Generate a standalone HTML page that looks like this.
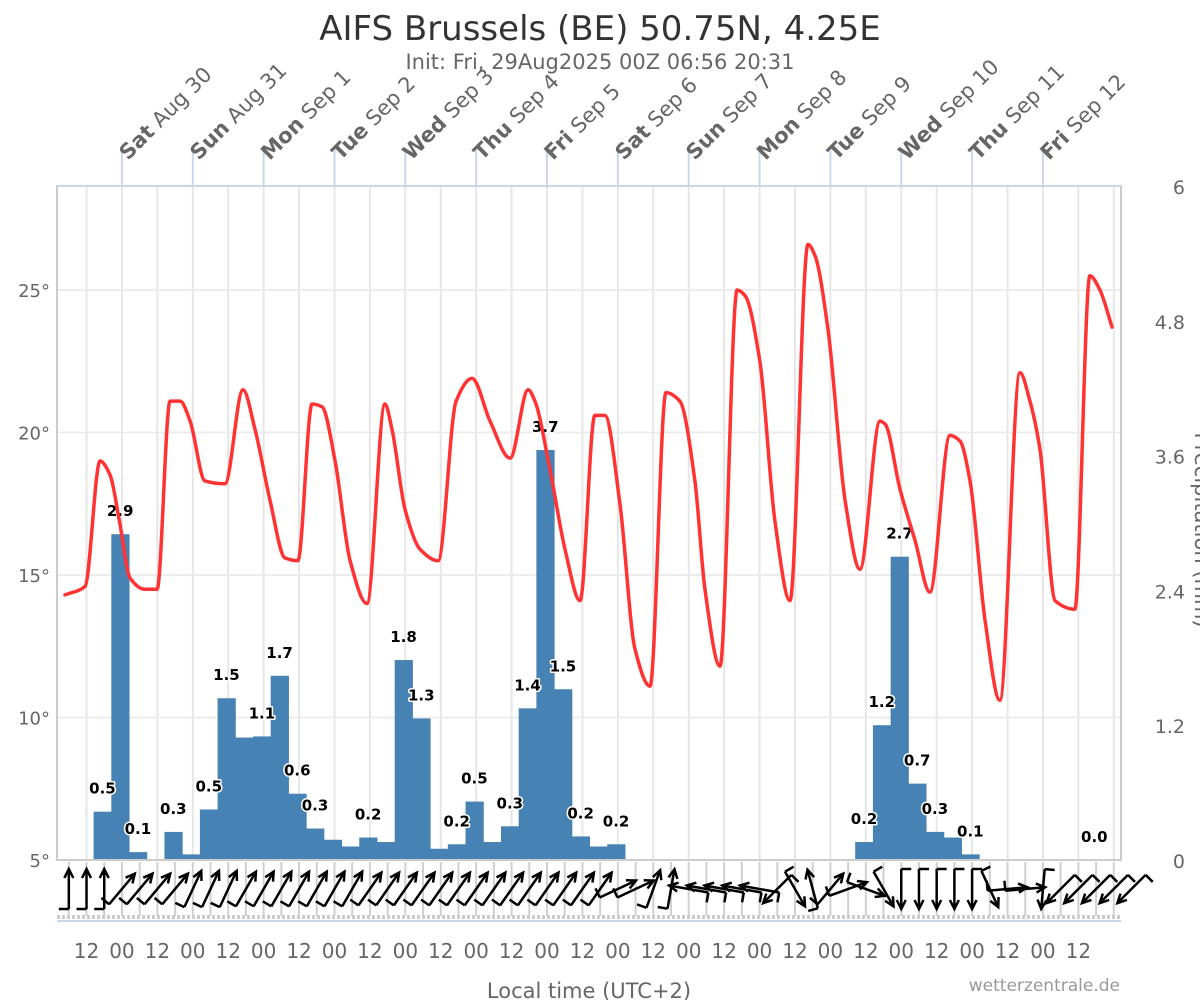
<!DOCTYPE html>
<html><head><meta charset="utf-8">
<style>
html,body{margin:0;padding:0;background:#fff;}
svg{display:block;font-family:"DejaVu Sans","Liberation Sans",sans-serif;}
</style></head>
<body>
<svg id="chart" width="1200" height="1000" viewBox="0 0 1200 1000" xmlns="http://www.w3.org/2000/svg">
<text x="600" y="40" text-anchor="middle" font-size="34" fill="#333">AIFS Brussels (BE) 50.75N, 4.25E</text>
<text x="600" y="69" text-anchor="middle" font-size="21" fill="#666">Init: Fri, 29Aug2025 00Z 06:56 20:31</text>
<g id="grid"></g>
<g id="bars"></g>
<g id="labels"></g>
<g id="line"></g>
<g id="wind"></g>
<g id="axes"></g>
<text x="589" y="998" text-anchor="middle" font-size="21" fill="#666">Local time (UTC+2)</text>
<text x="1120" y="991" text-anchor="end" font-size="17" fill="#999">wetterzentrale.de</text>
<text transform="translate(1195,530) rotate(90)" text-anchor="middle" font-size="21" fill="#666">Precipitation (mm)</text>
</svg>
<script>
// ---- data ----
const dayNames = ["Sat","Sun","Mon","Tue","Wed","Thu","Fri","Sat","Sun","Mon","Tue","Wed","Thu","Fri"];
const dayDates = ["Aug 30","Aug 31","Sep 1","Sep 2","Sep 3","Sep 4","Sep 5","Sep 6","Sep 7","Sep 8","Sep 9","Sep 10","Sep 11","Sep 12"];
const tempTicks = [5,10,15,20,25];
const precipTicks = ["0","1.2","2.4","3.6","4.8","6"];
const precipTickValues = [0,1.2,2.4,3.6,4.8,6];
const hourLabels = ["12","00","12","00","12","00","12","00","12","00","12","00","12","00","12","00","12","00","12","00","12","00","12","00","12","00","12","00","12"];
const tempHours = [2.7,9.5,14.6,18,21.3,24.7,29.8,33.9,38.3,41.7,45.1,50.1,56.9,63,67.1,72.2,77.2,81.6,86.4,89.8,94.2,99.3,105,111.1,113.5,117.9,123,129.1,135.2,140.6,146.7,153.5,159.6,161.9,167,172.1,177.2,182.2,185.6,190.7,195.8,200.9,206.3,211,216.1,219.5,224.6,230.4,233.1,238.1,243.2,248.3,254.4,256.8,261.2,267,272,278.8,280.5,285.6,290.7,295.7,302.5,305.9,309.3,314.4,319.4,326.2,329.6,333,338.1,344.8,349.9,353.3,357.4];
const tempValues = [14.3,14.6,19.0,18.5,16.8,14.9,14.5,14.5,21.1,21.1,20.4,18.3,18.2,21.5,20.1,17.6,15.6,15.5,21.0,20.9,19.0,15.5,14.0,21.0,20.1,17.3,15.9,15.5,21.1,21.9,20.4,19.1,21.5,21.1,18.7,15.9,14.1,20.6,20.6,17.5,12.4,11.1,21.4,21.1,18.3,14.5,11.8,25.0,24.8,22.5,16.9,14.1,26.6,26.2,23.6,17.6,15.2,20.4,20.3,18.0,16.2,14.4,19.9,19.7,18.3,13.4,10.6,22.1,21.1,19.4,14.1,13.8,25.5,25.0,23.7];
const precipValues = [0.43,2.9,0.07,0,0.25,0.05,0.45,1.44,1.09,1.1,1.64,0.59,0.28,0.18,0.12,0.2,0.16,1.78,1.26,0.1,0.14,0.52,0.16,0.3,1.35,3.65,1.52,0.21,0.12,0.14,0,0,0,0,0,0,0,0,0,0,0,0,0,0.16,1.2,2.7,0.68,0.25,0.2,0.05,0,0,0,0,0,0,0];
const precipLabels = ["0.5","2.9","0.1","","0.3","","0.5","1.5","","1.1","1.7","0.6","0.3","","","0.2","","1.8","1.3","","0.2","0.5","","0.3","1.4","3.7","1.5","0.2","","0.2","","","","","","","","","","","","","","0.2","1.2","2.7","0.7","0.3","","0.1","","","","","","","0.0"];
const windDir = [0,0,0,40,40,40,40,25,25,25,30,30,30,30,30,30,30,35,35,35,35,35,35,35,35,35,35,35,35,35,35,65,65,20,10,280,280,280,280,280,225,150,345,40,70,110,150,180,180,180,180,180,155,85,85,185,225,225,225,225,225];

// ---- scales ----
const X0=57, X1=1121, Y0=186, Y1=860;
const PXH=(1042-121)/(13*24);
function xOf(h){return X0+h*PXH;}
function yT(t){return 860-(t-5)*28.5;}
function yP(p){return 860-p*(674/6);}
const NS="http://www.w3.org/2000/svg";
function mk(tag,attrs,parent){const e=document.createElementNS(NS,tag);for(const k in attrs)e.setAttribute(k,attrs[k]);parent.appendChild(e);return e;}
const grid=document.getElementById('grid'),bars=document.getElementById('bars'),labels=document.getElementById('labels'),line=document.getElementById('line'),wind=document.getElementById('wind'),axes=document.getElementById('axes');

for(let h=10;h<364;h+=12){const x=xOf(h);if(x>X1)break;
 const l=mk('line',{x1:x,y1:Y0,x2:x,y2:Y1,stroke:'#e6e6e6','stroke-width':2},grid);
 
 }
for(let h=4;h<364;h+=6){const x=xOf(h);if(x>X1)break;
 const l=mk('line',{x1:x,y1:862,x2:x,y2:916,stroke:'#d0d0d0','stroke-width':2},grid);
 
 }
tempTicks.forEach(t=>{const y=yT(t);
 const l=mk('line',{x1:X0,y1:y,x2:X1,y2:y,stroke:'#ececec','stroke-width':2},grid);
 
 
 const tx=mk('text',{x:50,y:y+7,'text-anchor':'end','font-size':18,fill:'#666'},axes);
 tx.textContent=t+'°';
 
 });
precipTicks.forEach((s,i)=>{const y=yP(precipTickValues[i]);
 const tx=mk('text',{x:1185,y:y+8,'text-anchor':'end','font-size':19,fill:'#666'},axes);
 tx.textContent=s;
 
 });
const fr=mk('rect',{x:X0,y:Y0,width:X1-X0,height:Y1-Y0,fill:'none',stroke:'#cccccc','stroke-width':2},axes);


const tl=mk('line',{x1:X0,y1:Y0,x2:X1,y2:Y0,stroke:'#ccd6eb','stroke-width':2},axes);


dayNames.forEach((d,i)=>{const x=xOf(22+24*i);
 const l=mk('line',{x1:x,y1:148,x2:x,y2:Y0,stroke:'#ccd6eb','stroke-width':2},axes);
 
 
 const t=mk('text',{transform:`translate(${x+6},${161}) rotate(-45)`,'font-size':21,fill:'#666'},axes);
 
 
 const b=mk('tspan',{'font-weight':'bold'},t);b.textContent=d;
 const n=mk('tspan',{},t);n.textContent=' '+dayDates[i];});
const dl=mk('line',{x1:X0,y1:917,x2:X1,y2:917,stroke:'#cccccc','stroke-width':4,'stroke-dasharray':'3 2'},axes);


const bl=mk('line',{x1:X0,y1:921,x2:X1,y2:921,stroke:'#ccd6eb','stroke-width':2},axes);


hourLabels.forEach((s,i)=>{const x=xOf(10+12*i);
 const t=mk('text',{x:x,y:958,'text-anchor':'middle','font-size':20,fill:'#666'},axes);
 t.textContent=s;
 
 });

const B0=12.4;
precipValues.forEach((v,i)=>{const xa=xOf(B0+6*i),xb=xOf(B0+6*(i+1));
 if(v>0){const r=mk('rect',{x:xa,y:yP(v),width:xb-xa+0.5,height:Y1-yP(v),fill:'#4682b4'},bars);
 
 }
 if(precipLabels[i]){const t=mk('text',{x:(xa+xb)/2,y:yP(v)-18,'text-anchor':'middle','font-size':15,'font-weight':'bold',fill:'#000',stroke:'#fff','stroke-width':3,'paint-order':'stroke','stroke-linejoin':'round'},labels);
 t.textContent=precipLabels[i];
 
 }});

(function(){const n=tempHours.length;const xs=tempHours.map(xOf),ys=tempValues.map(yT);
 const d=[],m=new Array(n);for(let i=0;i<n-1;i++)d.push((ys[i+1]-ys[i])/(xs[i+1]-xs[i]));
 m[0]=d[0];m[n-1]=d[n-2];
 for(let i=1;i<n-1;i++){if(d[i-1]*d[i]<=0)m[i]=0;else{const w1=2*(xs[i+1]-xs[i])+(xs[i]-xs[i-1]),w2=(xs[i+1]-xs[i])+2*(xs[i]-xs[i-1]);m[i]=(w1+w2)/(w1/d[i-1]+w2/d[i]);}}
 let p=`M${xs[0]},${ys[0]}`;
 for(let i=0;i<n-1;i++){const h=(xs[i+1]-xs[i])/3;p+=` C${xs[i]+h},${ys[i]+m[i]*h} ${xs[i+1]-h},${ys[i+1]-m[i+1]*h} ${xs[i+1]},${ys[i+1]}`;}
 const pa=mk('path',{d:p,fill:'none',stroke:'#ff3333','stroke-width':3.5,'stroke-linejoin':'round','stroke-linecap':'round'},line);
 
 })();

windDir.forEach((a,k)=>{const cx=xOf(4+6*k),cy=889,L=40;
 const r=a*Math.PI/180,ux=Math.sin(r),uy=-Math.cos(r);
 const tx=cx+ux*L/2,ty=cy+uy*L/2,bx=cx-ux*L/2,by=cy-uy*L/2;
 const g=mk('g',{stroke:'#000','stroke-width':2.5,fill:'none','stroke-linecap':'butt'},wind);
 
 
 mk('line',{x1:bx,y1:by,x2:tx,y2:ty},g);
 const px=-uy,py=ux;
 const hx1=tx-ux*9+px*4.5,hy1=ty-uy*9+py*4.5,hx2=tx-ux*9-px*4.5,hy2=ty-uy*9-py*4.5;
 mk('polyline',{points:`${hx1},${hy1} ${tx},${ty} ${hx2},${hy2}`},g);
 mk('line',{x1:bx,y1:by,x2:bx-px*10,y2:by-py*10},g);});
</script>
</body></html>
